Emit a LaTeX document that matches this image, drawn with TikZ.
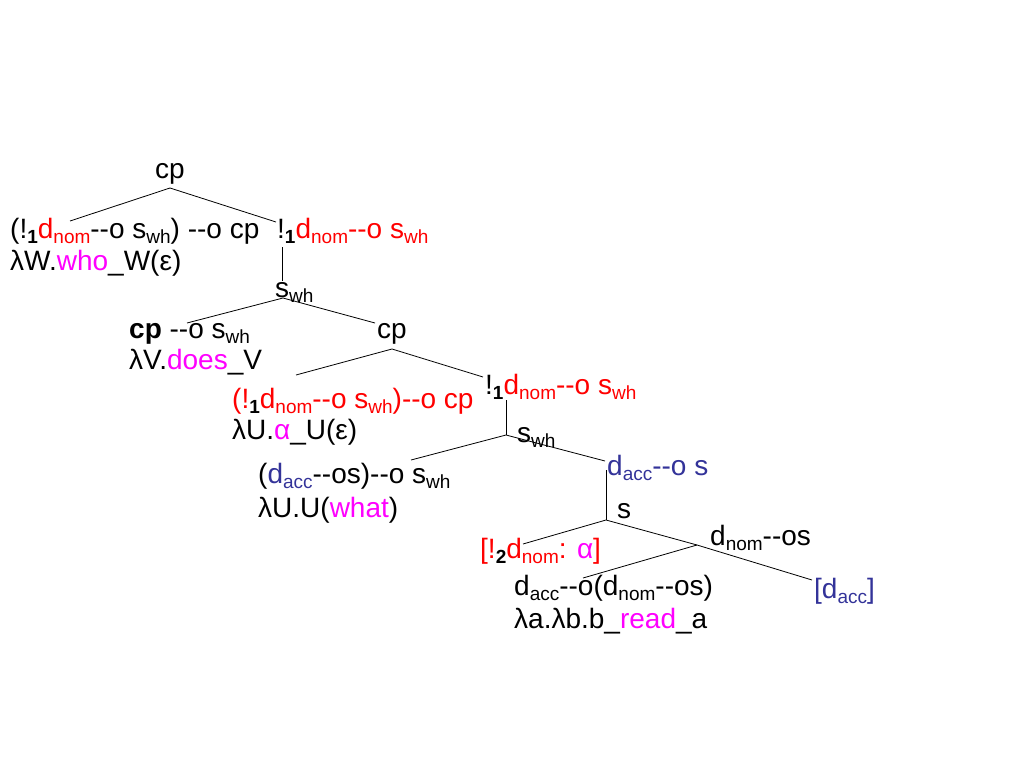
\documentclass[tikz,border=0pt]{standalone}
\usepackage{fontspec}
\setmainfont{Liberation Sans}
\usepackage{xcolor}
\definecolor{lred}{RGB}{255,0,0}
\definecolor{lmag}{RGB}{255,0,255}
\definecolor{lblue}{RGB}{51,51,153}
\newcommand{\sbs}[1]{\raisebox{-5pt}{\fontsize{19}{19}\selectfont #1}}
\newcommand{\idx}[1]{\sbs{\color{black}\textbf{#1}}}
\newcommand{\lo}{-{}-o}
\tikzset{lbl/.style={anchor=base west, inner sep=0pt, font=\fontsize{28}{34}\selectfont},
  branch/.style={line width=0.8pt}}

\begin{document}
\begin{tikzpicture}[x=1pt,y=-1pt]
\useasboundingbox (0,0) rectangle (1024,768);
% top
\node[lbl, anchor=base] (cpA) at (170,178) {cp};
\node[lbl] (whoT) at (10,238) {(!\idx{1}{\color{lred}d\sbs{nom}}\lo{} s\sbs{wh}) \lo{} cp};
\node[lbl] (whoL) at (10,270) {λW.{\color{lmag}who}\_W(ε)};
\node[lbl, lred] (topR) at (277,238) {{\color{black}!}\idx{1}d\sbs{nom}\lo{} s\sbs{wh}};
\node[lbl] (swhA) at (275,297) {s\sbs{wh}};
% does
\node[lbl] (doesT) at (129,338) {\textbf{cp} \lo{} s\sbs{wh}};
\node[lbl] (doesL) at (129,369) {λV.{\color{lmag}does}\_V};
\node[lbl] (cpB) at (377,338) {cp};
% alpha
\node[lbl, lred] (alphaT) at (232,408) {(!\idx{1}d\sbs{nom}\lo{} s\sbs{wh})\lo{} cp};
\node[lbl] (alphaL) at (232,439) {λU.{\color{lmag}α}\_U(ε)};
\node[lbl, lred] (midR) at (485,394) {{\color{black}!}\idx{1}d\sbs{nom}\lo{} s\sbs{wh}};
\node[lbl] (swhB) at (517,442) {s\sbs{wh}};
% what
\node[lbl] (whatT) at (258,483) {({\color{lblue}d\sbs{acc}}-{}-os)\lo{} s\sbs{wh}};
\node[lbl] (whatL) at (258,517) {λU.U({\color{lmag}what})};
\node[lbl, lblue] (daccS) at (607,475) {d\sbs{acc}\lo{} s};
\node[lbl] (sC) at (617,518) {s};
% read
\node[lbl, lred] (hyp) at (480,558) {[!\idx{2}d\sbs{nom}: {\color{lmag}α}]};
\node[lbl] (dnomS) at (710,545) {d\sbs{nom}-{}-os};
\node[lbl] (readT) at (514,595) {d\sbs{acc}\lo(d\sbs{nom}-{}-os)};
\node[lbl] (readL) at (514,628) {λa.λb.b\_{\color{lmag}read}\_a};
\node[lbl, lblue] (daccB) at (814,598) {[d\sbs{acc}]};
% branch points
\coordinate (t0) at (170,188);
\coordinate (t1) at (70,221);
\coordinate (t2) at (276,222);
\coordinate (u0) at (282,247);
\coordinate (u1) at (282,281);
\coordinate (v0) at (283,298);
\coordinate (v1) at (187,323);
\coordinate (v2) at (375,323);
\coordinate (w0) at (392,349);
\coordinate (w1) at (296,375);
\coordinate (w2) at (483,377);
\coordinate (x0) at (506,400);
\coordinate (x1) at (506,435);
\coordinate (x2) at (411,460);
\coordinate (x3) at (605,461);
\coordinate (y0) at (606,470);
\coordinate (y1) at (606,520);
\coordinate (y2) at (523,544);
\coordinate (y3) at (697,545);
\coordinate (z1) at (583,578);
\coordinate (z2) at (812,580);
\draw[branch] (t1) -- (t0) -- (t2);
\draw[branch] (u0) -- (u1);
\draw[branch] (v1) -- (v0) -- (v2);
\draw[branch] (w1) -- (w0) -- (w2);
\draw[branch] (x0) -- (x1);
\draw[branch] (x2) -- (x1) -- (x3);
\draw[branch] (y0) -- (y1);
\draw[branch] (y2) -- (y1) -- (y3);
\draw[branch] (z1) -- (y3) -- (z2);
\end{tikzpicture}
\end{document}
